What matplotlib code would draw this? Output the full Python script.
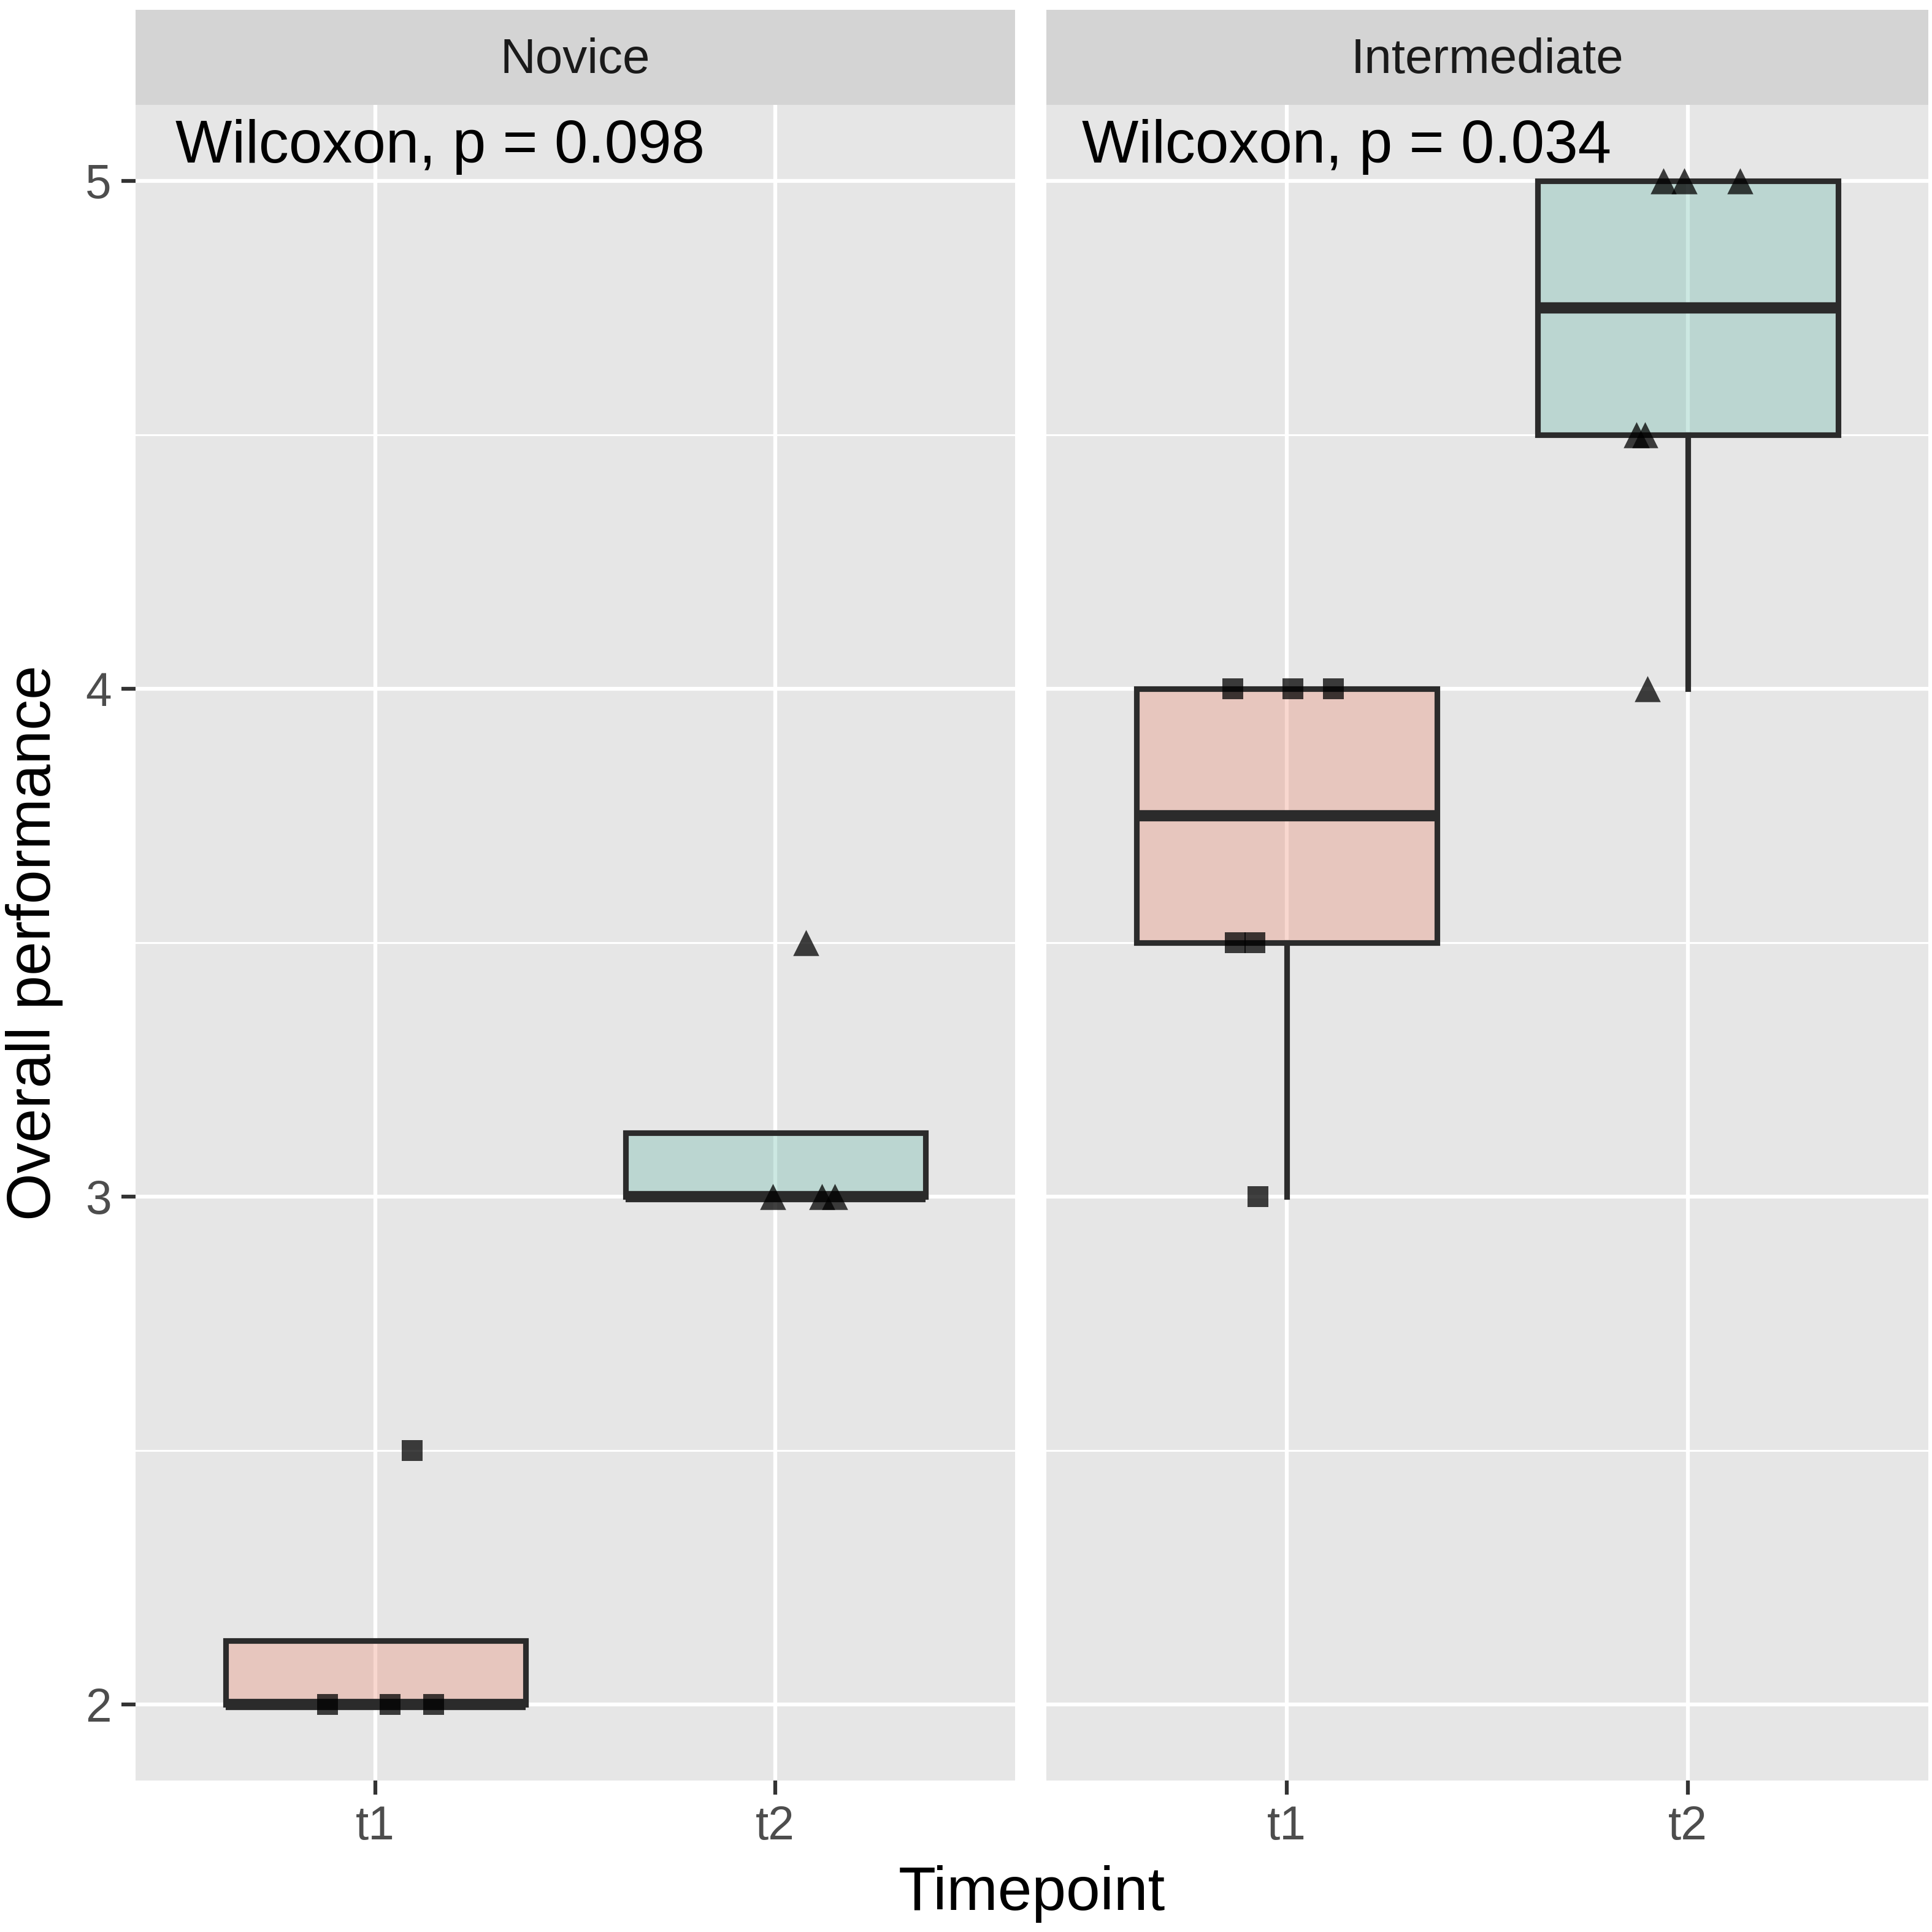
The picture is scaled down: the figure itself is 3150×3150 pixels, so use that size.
import matplotlib
matplotlib.use("Agg")
import matplotlib.pyplot as plt
from matplotlib.colors import to_rgba

# ---- data ----
groups = ["Novice", "Intermediate"]
timepoints = ["t1", "t2"]
p_labels = ["Wilcoxon, p = 0.098", "Wilcoxon, p = 0.034"]

novice_t1 = [2, 2, 2, 2.5]
novice_t1_jitter = [-0.12, 0.037, 0.145, 0.092]
novice_t2 = [3, 3, 3, 3.5]
novice_t2_jitter = [-0.006, 0.117, 0.148, 0.077]
inter_t1 = [4, 4, 4, 3.5, 3.5, 3]
inter_t1_jitter = [-0.135, 0.015, 0.117, -0.128, -0.079, -0.071]
inter_t2 = [5, 5, 5, 4.5, 4.5, 4]
inter_t2_jitter = [-0.06, -0.008, 0.13, -0.128, -0.106, -0.10]

panel_values = [[novice_t1, novice_t2], [inter_t1, inter_t2]]
panel_jitter = [[novice_t1_jitter, novice_t2_jitter], [inter_t1_jitter, inter_t2_jitter]]
label_x = [0.5, 0.49]

# ---- style ----
plt.rcParams['font.family'] = ['Liberation Sans', 'DejaVu Sans']
fill_cols = [to_rgba("#EB7D62", 0.3), to_rgba("#58B4A2", 0.3)]
markers = ["s", "^"]
msizes = [8.0 ** 2, 10.2 ** 2]
edge = "#2b2b2b"
panel_bg = "#E6E6E6"
strip_bg = "#D4D4D4"
tick_col = "#4D4D4D"

fig = plt.figure(figsize=(10.5, 10.5), dpi=300)
W = 1568.0
ybot = 1 - 1445 / W
ytop = 1 - 85 / W
strip_top = 1 - 8 / W
xs = [(110 / W, 824 / W), (849 / W, 1565 / W)]

for i, g in enumerate(groups):
    x0, x1 = xs[i]
    ax = fig.add_axes([x0, ybot, x1 - x0, ytop - ybot])
    ax.set_facecolor(panel_bg)
    for s in ax.spines.values():
        s.set_visible(False)
    ax.set_axisbelow(True)

    bp = ax.boxplot(panel_values[i], positions=[1, 2], widths=0.75, patch_artist=True,
                    showfliers=False, showcaps=False, whis=1.5,
                    medianprops=dict(color=edge, linewidth=4.4, solid_capstyle="butt"),
                    whiskerprops=dict(color=edge, linewidth=2.2),
                    boxprops=dict(edgecolor=edge, linewidth=2.2))
    for j, patch in enumerate(bp["boxes"]):
        patch.set_facecolor(fill_cols[j])
        patch.set_zorder(2)
    for ln in bp["medians"] + bp["whiskers"]:
        ln.set_zorder(2.5)

    for j in range(2):
        xv = [j + 1 + d for d in panel_jitter[i][j]]
        ax.scatter(xv, panel_values[i][j], marker=markers[j], s=msizes[j],
                   color="black", alpha=0.75, linewidths=0, zorder=3)

    ax.set_xlim(0.4, 2.6)
    ax.set_ylim(1.85, 5.15)
    ax.set_yticks([2, 3, 4, 5])
    ax.set_yticks([2.5, 3.5, 4.5], minor=True)
    ax.set_xticks([1, 2])
    ax.set_xticklabels(timepoints)
    ax.grid(True, which="major", color="white", linewidth=1.5)
    ax.grid(True, which="minor", axis="y", color="white", linewidth=0.75)
    ax.tick_params(axis="both", which="major", length=5.5, width=1.5, color="#333333",
                   labelcolor=tick_col, labelsize=18.4, pad=4)
    ax.tick_params(axis="both", which="minor", length=0)
    if i == 0:
        ax.set_yticklabels(["2", "3", "4", "5"])
    else:
        ax.tick_params(axis="y", which="major", length=0, labelleft=False)

    ax.text(label_x[i], 5.036, p_labels[i], fontsize=23.5, ha="left", va="baseline",
            color="black", zorder=4)

    # strip
    sax = fig.add_axes([x0, ytop, x1 - x0, strip_top - ytop])
    sax.set_facecolor(strip_bg)
    sax.set_xticks([])
    sax.set_yticks([])
    for s in sax.spines.values():
        s.set_visible(False)
    sax.text(0.5, 0.47, g, transform=sax.transAxes, ha="center", va="center",
             fontsize=19.2, color="#1A1A1A")

fig.text(837.5 / W, 1 - 1537 / W, "Timepoint", ha="center", va="center", fontsize=24)
fig.text(28 / W, 1 - 765 / W, "Overall performance", ha="center", va="center",
         rotation=90, fontsize=24)

fig.savefig("out.png", dpi=300, facecolor="white")
